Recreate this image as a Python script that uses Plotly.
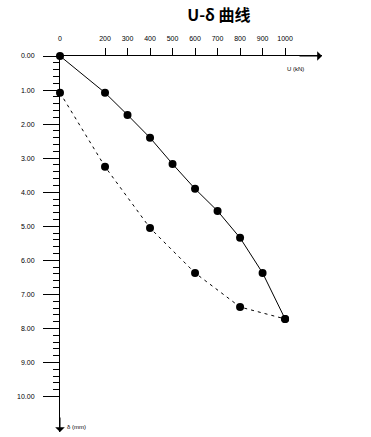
import plotly.graph_objects as go

# Data
load_u = [0, 200, 300, 400, 500, 600, 700, 800, 900, 1000]
load_d = [0.00, 1.08, 1.73, 2.40, 3.17, 3.90, 4.55, 5.34, 6.37, 7.72]
unload_u = [0, 200, 400, 600, 800, 1000]
unload_d = [1.08, 3.25, 5.05, 6.37, 7.37, 7.72]
x_ticks = [200, 300, 400, 500, 600, 700, 800, 900, 1000]
y_ticks = [0, 1, 2, 3, 4, 5, 6, 7, 8, 9, 10]
y_tick_labels = ["0.00", "1.00", "2.00", "3.00", "4.00", "5.00", "6.00", "7.00", "8.00", "9.00", "10.00"]
y_minor = [round(i * 0.2, 1) for i in range(1, 50) if i % 5 != 0]

X_MAX = 1164
Y_MAX = 11.04
FONT = "Liberation Sans"

fig = go.Figure()
fig.add_trace(go.Scatter(
    x=load_u, y=load_d, mode="lines+markers",
    line=dict(color="black", width=1),
    marker=dict(color="black", size=8),
    cliponaxis=False, showlegend=False))
fig.add_trace(go.Scatter(
    x=unload_u, y=unload_d, mode="lines+markers",
    line=dict(color="black", width=1, dash="3px,4px"),
    marker=dict(color="black", size=8),
    cliponaxis=False, showlegend=False))

fig.update_layout(
    width=371, height=437,
    margin=dict(l=60, r=49, t=56, b=5),
    paper_bgcolor="white", plot_bgcolor="white",
    title=dict(text="<b>U-δ 曲线</b>", x=0.59, xanchor="center",
               yref="container", y=1 - 15 / 437, yanchor="middle",
               font=dict(family="Noto Sans CJK SC", size=16, color="black")),
    xaxis=dict(range=[0, X_MAX], side="top", showgrid=False, zeroline=False,
               showline=True, linecolor="black", linewidth=1,
               tickmode="array", tickvals=x_ticks, ticktext=[str(v) for v in x_ticks],
               ticks="outside", ticklen=7, tickcolor="black", tickwidth=1,
               ticklabelstandoff=4,
               tickfont=dict(family=FONT, size=7, color="black")),
    yaxis=dict(range=[Y_MAX, 0], showgrid=False, zeroline=False,
               showline=True, linecolor="black", linewidth=1,
               tickmode="array", tickvals=y_ticks, ticktext=y_tick_labels,
               ticks="outside", ticklen=16, tickcolor="black", tickwidth=1,
               ticklabelstandoff=7,
               tickfont=dict(family=FONT, size=7, color="black"),
               minor=dict(tickmode="array", tickvals=y_minor, ticks="outside",
                          ticklen=6, tickcolor="black", tickwidth=1)),
    annotations=[
        dict(x=0, y=0, xref="x", yref="y", text="0", showarrow=False,
             yshift=18, font=dict(family=FONT, size=7, color="black")),
        dict(x=1000, y=0.37, xref="x", yref="y", text="U (kN)", showarrow=False,
             xanchor="left", font=dict(family=FONT, size=6, color="black")),
        dict(x=24, y=10.89, xref="x", yref="y", text="δ (mm)", showarrow=False,
             xanchor="left", font=dict(family=FONT, size=6, color="black")),
        dict(x=X_MAX, y=0, xref="x", yref="y", ax=-24, ay=0, text="",
             showarrow=True, arrowhead=1, arrowsize=1.6, arrowwidth=1, arrowcolor="black"),
        dict(x=0, y=Y_MAX, xref="x", yref="y", ax=0, ay=-16, text="",
             showarrow=True, arrowhead=1, arrowsize=1.6, arrowwidth=1, arrowcolor="black"),
    ],
)

fig.write_html("out.html",
               config={"displayModeBar": False},
               post_script="document.body.style.margin='0';document.body.style.overflow='hidden';")
